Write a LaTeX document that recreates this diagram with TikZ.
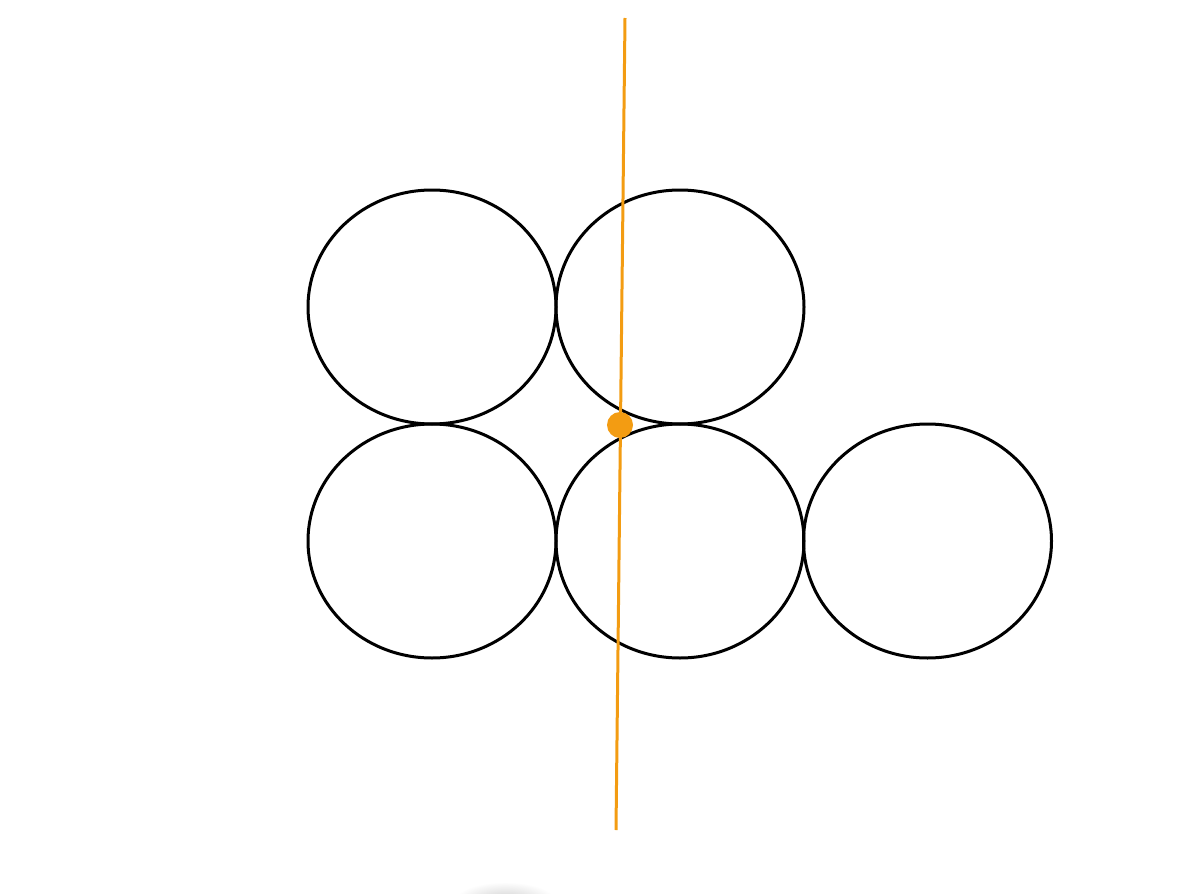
\documentclass[tikz,border=0pt]{standalone}
\usetikzlibrary{shapes.geometric}
\definecolor{orangeline}{RGB}{243,156,18}
\begin{document}
\begin{tikzpicture}[x=0.6pt,y=-0.6pt,
  ring/.style={draw=black,ellipse,line width=1.8pt,inner sep=0pt,minimum width=148.8pt,minimum height=140.4pt},
  axis/.style={draw=orangeline,line width=1.8pt},
  pivot/.style={circle,fill=orangeline,inner sep=0pt,minimum size=15.6pt}]
\useasboundingbox (0,0) rectangle (1200,894);
\shade[inner color=black!18,outer color=white] (505,900) ellipse (50 and 18);
\node[ring] (c1) at (432,307) {};
\node[ring] (c2) at (680,307) {};
\node[ring] (c3) at (432,541) {};
\node[ring] (c4) at (680,541) {};
\node[ring] (c5) at (927.5,541) {};
\coordinate (top) at (625,18);
\coordinate (bot) at (616,830);
\draw[axis] (top) -- (bot);
\node[pivot] (p) at (620,425) {};
\end{tikzpicture}
\end{document}
